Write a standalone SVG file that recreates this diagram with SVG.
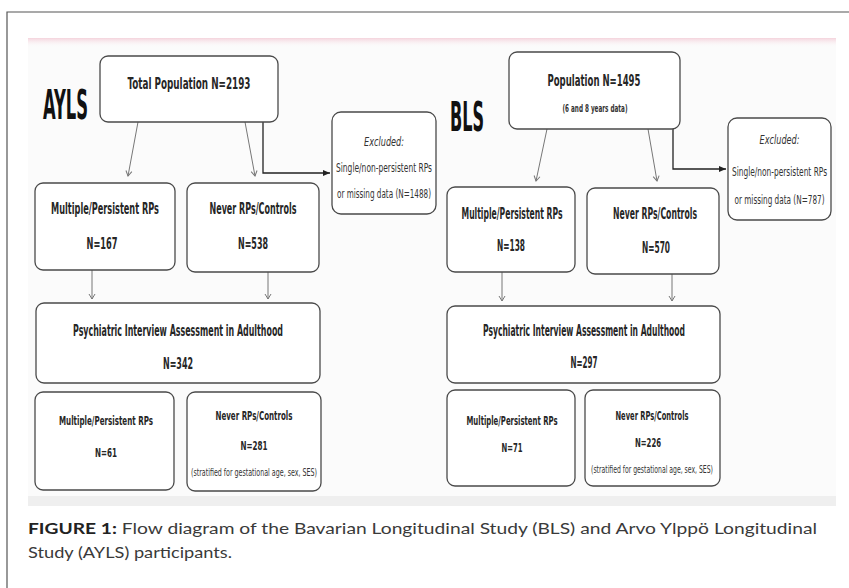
<svg xmlns="http://www.w3.org/2000/svg" width="849" height="588" viewBox="0 0 849 588">
<defs>
<linearGradient id="pink" x1="0" y1="0" x2="0" y2="1">
<stop offset="0" stop-color="#f4d3dc"/>
<stop offset="1" stop-color="#fdf8f9" stop-opacity="0"/>
</linearGradient>
<marker id="vhead" markerWidth="8" markerHeight="8" refX="6" refY="4" orient="auto" markerUnits="userSpaceOnUse">
<path d="M1,1 L6,4 L1,7" fill="none" stroke="#777" stroke-width="1"/>
</marker>
<marker id="fhead" markerWidth="8" markerHeight="8" refX="7" refY="4" orient="auto" markerUnits="userSpaceOnUse">
<path d="M0,1 L7,4 L0,7 Z" fill="#222"/>
</marker>
</defs>
<style>
.box{fill:#fff;stroke:#4a4a4a;stroke-width:1.3}
.t{font-family:"Liberation Sans Narrow","DejaVu Sans Condensed","Liberation Sans",sans-serif;font-weight:bold;fill:#262626;text-anchor:middle}
.e{font-family:"Liberation Sans Narrow","DejaVu Sans Condensed","Liberation Sans",sans-serif;fill:#333;text-anchor:middle;font-size:13px}
.big{font-family:"Liberation Sans Narrow","DejaVu Sans Condensed","Liberation Sans",sans-serif;font-weight:bold;fill:#111;font-size:40px}
.thin{fill:none;stroke:#777;stroke-width:1}
.dark{fill:none;stroke:#222;stroke-width:1.3}
.cap{font-family:Lato,"Open Sans","Noto Sans",sans-serif;font-size:15px;fill:#3a3a3a}
</style>
<rect x="0" y="0" width="849" height="588" fill="#fff"/>
<path d="M7,588 V12 H849" fill="none" stroke="#555" stroke-width="1.2"/>
<rect x="28" y="40" width="808" height="466" fill="#fbfbfb"/>
<rect x="28" y="38" width="808" height="9" fill="url(#pink)"/>
<rect x="28" y="496" width="808" height="10" fill="#efefef"/>

<text class="big" x="43" y="119" textLength="45" lengthAdjust="spacingAndGlyphs">AYLS</text>
<text class="big" x="450" y="131" textLength="34" lengthAdjust="spacingAndGlyphs">BLS</text>

<g id="connectors">
<line class="thin" x1="138" y1="122" x2="128" y2="176" marker-end="url(#vhead)"/>
<line class="thin" x1="245" y1="122" x2="255" y2="176" marker-end="url(#vhead)"/>
<polyline class="dark" points="263,122 263,173 330,173" marker-end="url(#fhead)"/>
<line class="thin" x1="92" y1="270" x2="92" y2="299" marker-end="url(#vhead)"/>
<line class="thin" x1="268" y1="272" x2="268" y2="299" marker-end="url(#vhead)"/>
<line class="thin" x1="547" y1="129" x2="536" y2="181" marker-end="url(#vhead)"/>
<line class="thin" x1="648" y1="129" x2="657" y2="181" marker-end="url(#vhead)"/>
<polyline class="dark" points="673,129 673,169 726,169" marker-end="url(#fhead)"/>
<line class="thin" x1="502" y1="272" x2="502" y2="301" marker-end="url(#vhead)"/>
<line class="thin" x1="672" y1="274" x2="672" y2="301" marker-end="url(#vhead)"/>
</g>

<g id="ayls-total">
<rect class="box" x="100" y="56" width="178" height="66" rx="8"/>
<text class="t" x="189" y="89" font-size="16" textLength="123" lengthAdjust="spacingAndGlyphs">Total Population N=2193</text>
</g>
<g id="ayls-excluded">
<rect class="box" x="332" y="112" width="104" height="102" rx="9"/>
<text class="e" x="384" y="146" font-style="italic" textLength="40" lengthAdjust="spacingAndGlyphs">Excluded:</text>
<text class="e" x="384" y="172" textLength="96" lengthAdjust="spacingAndGlyphs">Single/non-persistent RPs</text>
<text class="e" x="384" y="198" textLength="94" lengthAdjust="spacingAndGlyphs">or missing data (N=1488)</text>
</g>
<g id="ayls-multiple">
<rect class="box" x="35" y="183" width="140" height="87" rx="8"/>
<text class="t" x="105" y="214" font-size="15" textLength="108" lengthAdjust="spacingAndGlyphs">Multiple/Persistent RPs</text>
<text class="t" x="102" y="249" font-size="15" textLength="31" lengthAdjust="spacingAndGlyphs">N=167</text>
</g>
<g id="ayls-never">
<rect class="box" x="187" y="183" width="132" height="89" rx="8"/>
<text class="t" x="253" y="214" font-size="15" textLength="87" lengthAdjust="spacingAndGlyphs">Never RPs/Controls</text>
<text class="t" x="253" y="249" font-size="15" textLength="30" lengthAdjust="spacingAndGlyphs">N=538</text>
</g>
<g id="ayls-psych">
<rect class="box" x="36" y="303" width="284" height="80" rx="8"/>
<text class="t" x="178" y="336" font-size="15" textLength="210" lengthAdjust="spacingAndGlyphs">Psychiatric Interview Assessment in Adulthood</text>
<text class="t" x="178" y="369" font-size="15" textLength="30" lengthAdjust="spacingAndGlyphs">N=342</text>
</g>
<g id="ayls-multiple-adult">
<rect class="box" x="35" y="392" width="139" height="98" rx="8"/>
<text class="t" x="106" y="425" font-size="13" textLength="94" lengthAdjust="spacingAndGlyphs">Multiple/Persistent RPs</text>
<text class="t" x="106" y="457" font-size="13" textLength="22" lengthAdjust="spacingAndGlyphs">N=61</text>
</g>
<g id="ayls-never-adult">
<rect class="box" x="187" y="392" width="134" height="99" rx="8"/>
<text class="t" x="254" y="420" font-size="13" textLength="77" lengthAdjust="spacingAndGlyphs">Never RPs/Controls</text>
<text class="t" x="254" y="450" font-size="13" textLength="27" lengthAdjust="spacingAndGlyphs">N=281</text>
<text class="e" x="254" y="476" style="font-size:10px" textLength="126" lengthAdjust="spacingAndGlyphs">(stratified for gestational age, sex, SES)</text>
</g>

<g id="bls-pop">
<rect class="box" x="509" y="52" width="171" height="77" rx="8"/>
<text class="t" x="594" y="86" font-size="16" textLength="93" lengthAdjust="spacingAndGlyphs">Population N=1495</text>
<text class="e" x="595" y="112" style="font-size:10px" font-weight="bold" textLength="65" lengthAdjust="spacingAndGlyphs">(6 and 8 years data)</text>
</g>
<g id="bls-excluded">
<rect class="box" x="728" y="118" width="103" height="102" rx="9"/>
<text class="e" x="779.5" y="144" font-style="italic" textLength="40" lengthAdjust="spacingAndGlyphs">Excluded:</text>
<text class="e" x="779.5" y="176" textLength="95" lengthAdjust="spacingAndGlyphs">Single/non-persistent RPs</text>
<text class="e" x="779.5" y="204" textLength="90" lengthAdjust="spacingAndGlyphs">or missing data (N=787)</text>
</g>
<g id="bls-multiple">
<rect class="box" x="447" y="187" width="128" height="85" rx="8"/>
<text class="t" x="512" y="219" font-size="15" textLength="101" lengthAdjust="spacingAndGlyphs">Multiple/Persistent RPs</text>
<text class="t" x="511" y="251" font-size="15" textLength="28" lengthAdjust="spacingAndGlyphs">N=138</text>
</g>
<g id="bls-never">
<rect class="box" x="587" y="188" width="132" height="86" rx="8"/>
<text class="t" x="655" y="219" font-size="15" textLength="84" lengthAdjust="spacingAndGlyphs">Never RPs/Controls</text>
<text class="t" x="656" y="253" font-size="15" textLength="28" lengthAdjust="spacingAndGlyphs">N=570</text>
</g>
<g id="bls-psych">
<rect class="box" x="447" y="306" width="273" height="77" rx="8"/>
<text class="t" x="584" y="336" font-size="15" textLength="202" lengthAdjust="spacingAndGlyphs">Psychiatric Interview Assessment in Adulthood</text>
<text class="t" x="584" y="368" font-size="15" textLength="27" lengthAdjust="spacingAndGlyphs">N=297</text>
</g>
<g id="bls-multiple-adult">
<rect class="box" x="447" y="390" width="128" height="96" rx="8"/>
<text class="t" x="512" y="425" font-size="13" textLength="91" lengthAdjust="spacingAndGlyphs">Multiple/Persistent RPs</text>
<text class="t" x="512" y="452" font-size="13" textLength="21" lengthAdjust="spacingAndGlyphs">N=71</text>
</g>
<g id="bls-never-adult">
<rect class="box" x="585" y="390" width="135" height="96" rx="8"/>
<text class="t" x="652" y="420" font-size="13" textLength="73" lengthAdjust="spacingAndGlyphs">Never RPs/Controls</text>
<text class="t" x="648" y="447" font-size="13" textLength="26" lengthAdjust="spacingAndGlyphs">N=226</text>
<text class="e" x="652" y="473" style="font-size:10px" textLength="122" lengthAdjust="spacingAndGlyphs">(stratified for gestational age, sex, SES)</text>
</g>

<text class="cap" x="28" y="534" textLength="789" lengthAdjust="spacingAndGlyphs"><tspan font-weight="bold" fill="#222">FIGURE 1:</tspan> Flow diagram of the Bavarian Longitudinal Study (BLS) and Arvo Ylppö Longitudinal</text>
<text class="cap" x="28" y="558" textLength="204" lengthAdjust="spacingAndGlyphs">Study (AYLS) participants.</text>
</svg>
